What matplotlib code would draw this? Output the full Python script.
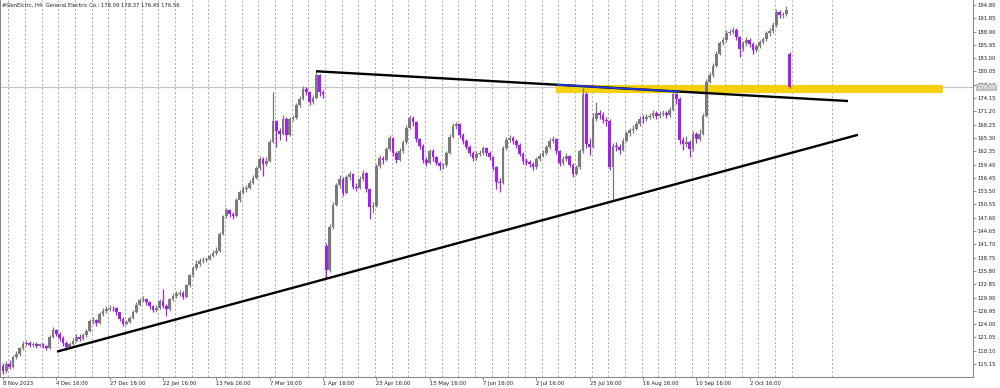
import matplotlib

matplotlib.use("Agg")
import matplotlib.pyplot as plt
import numpy as np
from matplotlib.transforms import blended_transform_factory

# candle data, one bar per column (price units)
opens = [
    114.8, 113.6, 115.2, 114.5, 116.7, 117.4, 118.6, 119.6, 119.8, 119.4,
    119.6, 119.2, 119.5, 119.1, 118.7, 121.2, 122.8, 121.9, 121.0, 119.9,
    118.9, 119.6, 120.3, 121.1, 120.8, 121.6, 122.5, 124.6, 124.9, 124.3,
    126.2, 126.9, 127.4, 127.6, 127.5, 126.6, 125.2, 124.1, 124.5, 125.4,
    126.7, 128.3, 129.3, 129.6, 128.8, 128.0, 127.2, 127.6, 129.2, 128.1,
    127.3, 129.5, 130.3, 130.7, 131.0, 130.1, 132.6, 134.8, 136.4, 137.4,
    138.0, 138.2, 138.5, 139.1, 139.8, 140.3, 144.0, 147.9, 149.3, 148.4,
    148.0, 151.6, 153.3, 153.9, 154.2, 155.3, 156.5, 158.6, 160.7, 159.6,
    160.3, 164.5, 169.0, 166.8, 166.2, 169.6, 166.0, 169.4, 169.8, 172.6,
    174.0, 176.2, 175.4, 173.3, 174.2, 179.3, 175.4, 141.3, 136.0, 145.5,
    150.5, 154.8, 156.3, 153.2, 156.6, 157.2, 154.5, 154.3, 156.2, 157.5,
    154.0, 150.0, 150.3, 159.0, 160.8, 160.4, 162.8, 165.2, 161.9, 160.5,
    162.4, 164.3, 167.5, 169.8, 168.8, 165.0, 163.6, 160.4, 159.8, 162.4,
    161.0, 159.8, 159.0, 159.2, 162.0, 165.6, 167.9, 168.3, 165.9, 164.7,
    163.4, 162.0, 160.9, 161.8, 161.9, 163.0, 162.0, 161.0, 158.8, 155.6,
    155.3, 163.0, 164.9, 165.2, 164.6, 163.8, 161.8, 160.1, 159.9, 159.5,
    158.8, 160.6, 161.4, 162.0, 163.2, 164.7, 165.1, 162.3, 159.8, 160.6,
    161.3, 159.4, 157.4, 158.8, 162.4, 175.0, 164.0, 163.3, 169.5, 170.9,
    170.5, 169.3, 169.0, 158.8, 163.5, 163.2, 162.7, 164.7, 166.3, 167.0,
    167.4, 168.4, 169.6, 169.5, 169.9, 170.2, 170.8, 170.2, 170.6, 170.9,
    170.3, 171.6, 175.0, 174.0, 164.9, 163.9, 164.4, 162.9, 166.2, 165.0,
    166.2, 170.2, 177.8, 179.3, 181.3, 184.0, 186.3, 187.0, 188.6, 188.9,
    189.3, 187.6, 185.1, 186.3, 187.0, 186.2, 184.8, 185.6, 186.6, 187.2,
    188.5, 189.0, 190.3, 193.2, 192.5, 192.7, 184.0,
]
highs = [
    115.3, 115.8, 116.0, 117.2, 118.1, 119.0, 120.3, 120.4, 120.2, 120.1,
    120.0, 119.9, 119.8, 119.4, 121.6, 123.3, 123.0, 122.3, 121.3, 120.2,
    120.0, 120.9, 121.7, 121.9, 122.0, 123.0, 125.1, 125.6, 125.2, 126.7,
    127.5, 128.0, 128.3, 128.1, 127.8, 126.8, 125.5, 125.0, 125.9, 127.1,
    128.8, 129.9, 130.2, 129.9, 129.1, 128.3, 128.2, 129.6, 131.8, 128.4,
    129.9, 130.9, 131.3, 131.6, 131.3, 133.0, 135.2, 136.9, 138.2, 138.6,
    138.8, 139.0, 139.6, 140.4, 141.2, 144.4, 148.3, 149.8, 149.6, 148.9,
    152.0, 153.8, 154.6, 154.8, 155.9, 157.0, 159.1, 161.3, 161.1, 161.0,
    165.0, 175.4, 169.3, 167.5, 170.5, 169.9, 170.0, 170.4, 173.1, 174.6,
    176.8, 176.5, 175.7, 174.8, 180.1, 179.6, 176.0, 142.0, 146.3, 151.0,
    155.4, 157.0, 156.6, 157.1, 157.9, 157.5, 155.2, 156.8, 158.2, 157.8,
    154.3, 151.2, 159.5, 161.5, 161.3, 163.4, 165.9, 165.5, 162.3, 163.0,
    164.9, 168.1, 170.5, 170.2, 169.1, 165.4, 163.9, 161.0, 162.9, 162.8,
    161.4, 160.3, 159.8, 162.5, 166.1, 168.6, 168.9, 168.6, 166.3, 165.1,
    163.8, 162.4, 162.4, 162.6, 163.6, 163.4, 162.4, 161.3, 159.1, 156.4,
    163.6, 165.5, 165.9, 165.7, 165.0, 164.1, 162.2, 160.8, 160.5, 159.9,
    161.1, 162.0, 162.6, 163.8, 165.3, 165.8, 165.4, 162.6, 161.2, 162.0,
    161.6, 159.8, 159.3, 162.9, 176.4, 175.4, 165.2, 170.8, 173.2, 171.6,
    171.0, 169.9, 169.4, 164.2, 164.3, 163.9, 165.3, 166.9, 167.6, 168.1,
    169.0, 170.2, 170.3, 170.6, 170.9, 171.4, 171.2, 171.3, 171.5, 171.3,
    172.1, 175.6, 175.3, 174.3, 165.6, 165.8, 164.8, 166.8, 166.6, 167.2,
    170.8, 178.4, 179.9, 181.9, 184.6, 186.9, 187.7, 189.2, 189.5, 190.0,
    189.7, 187.9, 186.9, 187.6, 187.4, 186.5, 186.2, 187.1, 187.8, 189.0,
    189.7, 191.0, 193.9, 193.6, 193.3, 194.6, 184.3,
]
lows = [
    112.9, 113.2, 114.0, 114.2, 116.3, 117.0, 118.3, 119.2, 118.9, 119.0,
    118.8, 118.9, 118.6, 118.2, 118.5, 120.9, 121.4, 120.3, 119.2, 118.3,
    118.6, 119.3, 120.0, 120.2, 120.4, 121.2, 122.2, 124.0, 123.5, 124.0,
    125.9, 126.5, 127.0, 127.0, 126.1, 124.8, 123.6, 123.7, 124.2, 125.1,
    126.4, 128.0, 128.9, 128.3, 127.4, 126.7, 126.8, 127.3, 127.6, 125.9,
    127.0, 129.1, 129.8, 130.2, 129.5, 129.9, 132.3, 134.5, 136.0, 137.0,
    137.6, 137.8, 138.2, 138.8, 139.4, 140.0, 143.7, 147.5, 147.8, 147.4,
    147.8, 151.2, 152.9, 153.4, 153.9, 155.0, 156.2, 158.3, 156.8, 159.0,
    160.0, 164.2, 163.2, 164.8, 165.9, 164.7, 165.7, 169.0, 169.5, 172.2,
    173.7, 174.8, 172.6, 172.9, 173.9, 174.6, 174.1, 134.2, 135.6, 145.2,
    150.2, 154.3, 152.4, 152.9, 156.0, 153.9, 153.6, 154.0, 155.8, 153.4,
    147.4, 148.6, 150.0, 158.6, 159.6, 160.1, 162.5, 161.2, 159.8, 160.1,
    162.0, 164.0, 167.2, 168.0, 164.4, 162.9, 159.7, 159.1, 159.5, 160.3,
    159.2, 158.2, 158.4, 158.9, 161.7, 165.3, 167.4, 165.2, 164.0, 162.8,
    161.3, 160.2, 160.5, 161.2, 161.5, 161.4, 160.4, 158.1, 154.0, 153.4,
    155.0, 162.6, 164.4, 164.0, 163.1, 161.2, 159.5, 159.2, 158.8, 158.1,
    158.5, 160.2, 161.0, 161.6, 162.9, 164.2, 161.7, 159.1, 159.4, 160.2,
    158.8, 156.6, 157.0, 158.5, 162.0, 163.0, 161.6, 163.0, 169.0, 169.6,
    168.6, 167.9, 158.2, 151.4, 162.4, 161.8, 162.3, 164.3, 165.8, 166.5,
    167.0, 168.0, 168.7, 169.0, 169.4, 169.8, 169.5, 169.8, 170.1, 169.7,
    170.0, 171.3, 172.8, 164.0, 162.6, 163.3, 161.0, 162.5, 164.2, 164.6,
    165.9, 169.9, 177.4, 178.9, 181.0, 183.6, 185.9, 186.6, 188.1, 188.4,
    187.0, 183.2, 184.7, 185.8, 185.5, 184.0, 184.4, 185.2, 186.1, 186.8,
    188.0, 188.6, 190.0, 191.9, 192.0, 192.3, 176.45,
]
closes = [
    113.6, 115.2, 114.5, 116.7, 117.4, 118.6, 119.6, 119.8, 119.4, 119.6,
    119.2, 119.5, 119.1, 118.7, 121.2, 122.8, 121.9, 121.0, 119.9, 118.9,
    119.6, 120.3, 121.1, 120.8, 121.6, 122.5, 124.6, 124.9, 124.3, 126.2,
    126.9, 127.4, 127.6, 127.5, 126.6, 125.2, 124.1, 124.5, 125.4, 126.7,
    128.3, 129.3, 129.6, 128.8, 128.0, 127.2, 127.6, 129.2, 128.1, 127.3,
    129.5, 130.3, 130.7, 131.0, 130.1, 132.6, 134.8, 136.4, 137.4, 138.0,
    138.2, 138.5, 139.1, 139.8, 140.3, 144.0, 147.9, 149.3, 148.4, 148.0,
    151.6, 153.3, 153.9, 154.2, 155.3, 156.5, 158.6, 160.7, 159.6, 160.3,
    164.5, 169.0, 166.8, 166.2, 169.6, 166.0, 169.4, 169.8, 172.6, 174.0,
    176.2, 175.4, 173.3, 174.2, 179.3, 175.4, 175.0, 136.0, 145.5, 150.5,
    154.8, 156.3, 153.2, 156.6, 157.2, 154.5, 154.3, 156.2, 157.5, 154.0,
    150.0, 150.3, 159.0, 160.8, 160.4, 162.8, 165.2, 161.9, 160.5, 162.4,
    164.3, 167.5, 169.8, 168.8, 165.0, 163.6, 160.4, 159.8, 162.4, 161.0,
    159.8, 159.0, 159.2, 162.0, 165.6, 167.9, 168.3, 165.9, 164.7, 163.4,
    162.0, 160.9, 161.8, 161.9, 163.0, 162.0, 161.0, 158.8, 155.6, 155.3,
    163.0, 164.9, 165.2, 164.6, 163.8, 161.8, 160.1, 159.9, 159.5, 158.8,
    160.6, 161.4, 162.0, 163.2, 164.7, 165.1, 162.3, 159.8, 160.6, 161.3,
    159.4, 157.4, 158.8, 162.4, 175.0, 164.0, 163.3, 169.5, 170.9, 170.5,
    169.3, 169.0, 158.8, 163.5, 163.2, 162.7, 164.7, 166.3, 167.0, 167.4,
    168.4, 169.6, 169.5, 169.9, 170.2, 170.8, 170.2, 170.6, 170.9, 170.3,
    171.6, 175.0, 174.0, 164.9, 163.9, 164.4, 162.9, 166.2, 165.0, 166.2,
    170.2, 177.8, 179.3, 181.3, 184.0, 186.3, 187.0, 188.6, 188.9, 189.3,
    187.6, 185.1, 186.3, 187.0, 186.2, 184.8, 185.6, 186.6, 187.2, 188.5,
    189.0, 190.3, 193.2, 192.5, 192.7, 193.6, 176.56,
]

date_labels = [
    "8 Nov 2023", "4 Dec 16:00", "27 Dec 16:00", "22 Jan 16:00", "13 Feb 16:00",
    "7 Mar 16:00", "1 Apr 16:00", "23 Apr 16:00", "15 May 16:00", "7 Jun 16:00",
    "2 Jul 16:00", "25 Jul 16:00", "16 Aug 16:00", "10 Sep 16:00", "2 Oct 16:00",
]
date_label_bars = [0, 16, 32, 48, 64, 80, 96, 112, 128, 144, 160, 176, 192, 208, 224]

price_ticks = [
    194.80, 191.85, 188.90, 185.95, 183.00, 180.05, 177.10, 174.15, 171.20,
    168.25, 165.30, 162.35, 159.40, 156.45, 153.50, 150.55, 147.60, 144.65,
    141.70, 138.75, 135.80, 132.85, 129.90, 126.95, 124.00, 121.05, 118.10,
    115.15,
]

last_price = 176.56
title = "#GenElctrc, H4  General Electric Co.: 178.09 178.37 176.45 176.56"

# hand-drawn objects on the chart (bar index, price)
resistance_bars = [93.9, 253.5]
resistance_prices = [180.1, 173.5]
support_bars = [16.2, 256.5]
support_prices = [117.9, 166.0]
touch_bars = [166.2, 203.1]
touch_prices = [177.1, 175.6]
zone_bars = [166.0, 282.0]
zone_low, zone_high = 175.2, 177.0

BULL = "#7a7a7a"
BEAR = "#a020f0"
FONT = 3.8

fig = plt.figure(figsize=(10.0, 3.88), dpi=100)
ax = fig.add_axes([0.0, 11 / 388, 0.973, 377 / 388])

o = np.array(opens)
h = np.array(highs)
lo = np.array(lows)
c = np.array(closes)
x = np.arange(len(c))
colors = np.where(c >= o, BULL, BEAR)

# weekly period separators
for sep in list(np.arange(1.6, len(c), 5)) + [248.7]:
    ax.axvline(sep, color="#8c8c8c", lw=0.5, linestyle=(0, (3, 3)), zorder=1)

ax.axhline(last_price, color="#c4c4c4", lw=0.9, zorder=1.5)
ax.fill_between(zone_bars, zone_low, zone_high, color="#f5d10a", lw=0, zorder=2)

ax.vlines(x, lo, h, colors=colors, lw=0.9, zorder=3)
body = np.maximum(np.abs(c - o), 0.15)
ax.bar(x, body, bottom=np.minimum(o, c), width=0.75, color=colors, lw=0, zorder=3)

ax.plot(resistance_bars, resistance_prices, color="black", lw=1.7, zorder=4,
        solid_capstyle="butt")
ax.plot(support_bars, support_prices, color="black", lw=1.7, zorder=4,
        solid_capstyle="butt")
ax.plot(touch_bars, touch_prices, color="#2038e8", lw=1.3, zorder=5,
        solid_capstyle="butt")

ax.set_xlim(-0.9, 291.0)
ax.set_ylim(112.27, 195.91)

ax.yaxis.tick_right()
ax.set_yticks(price_ticks)
ax.set_yticklabels([f"{t:.2f}" for t in price_ticks])
ax.set_xticks(date_label_bars)
ax.set_xticklabels(date_labels, ha="left")
ax.tick_params(axis="both", labelsize=FONT, length=2, width=0.5, color="#606060",
               labelcolor="#202020", pad=1)

ax.spines["top"].set_visible(False)
for side in ("left", "right", "bottom"):
    ax.spines[side].set_color("#8a8a8a")
    ax.spines[side].set_linewidth(0.8)

trans = blended_transform_factory(ax.transAxes, ax.transData)
ax.text(1.0045, last_price, f"{last_price:.2f}", transform=trans, fontsize=FONT,
        color="white", va="center", ha="left", zorder=6, clip_on=False,
        bbox=dict(facecolor="#c0c0c0", edgecolor="none", pad=0.8))

ax.text(0.002, 0.993, title, transform=ax.transAxes, fontsize=FONT, color="#202020",
        va="top", ha="left")

fig.savefig("out.png", dpi=100)
plt.close(fig)
